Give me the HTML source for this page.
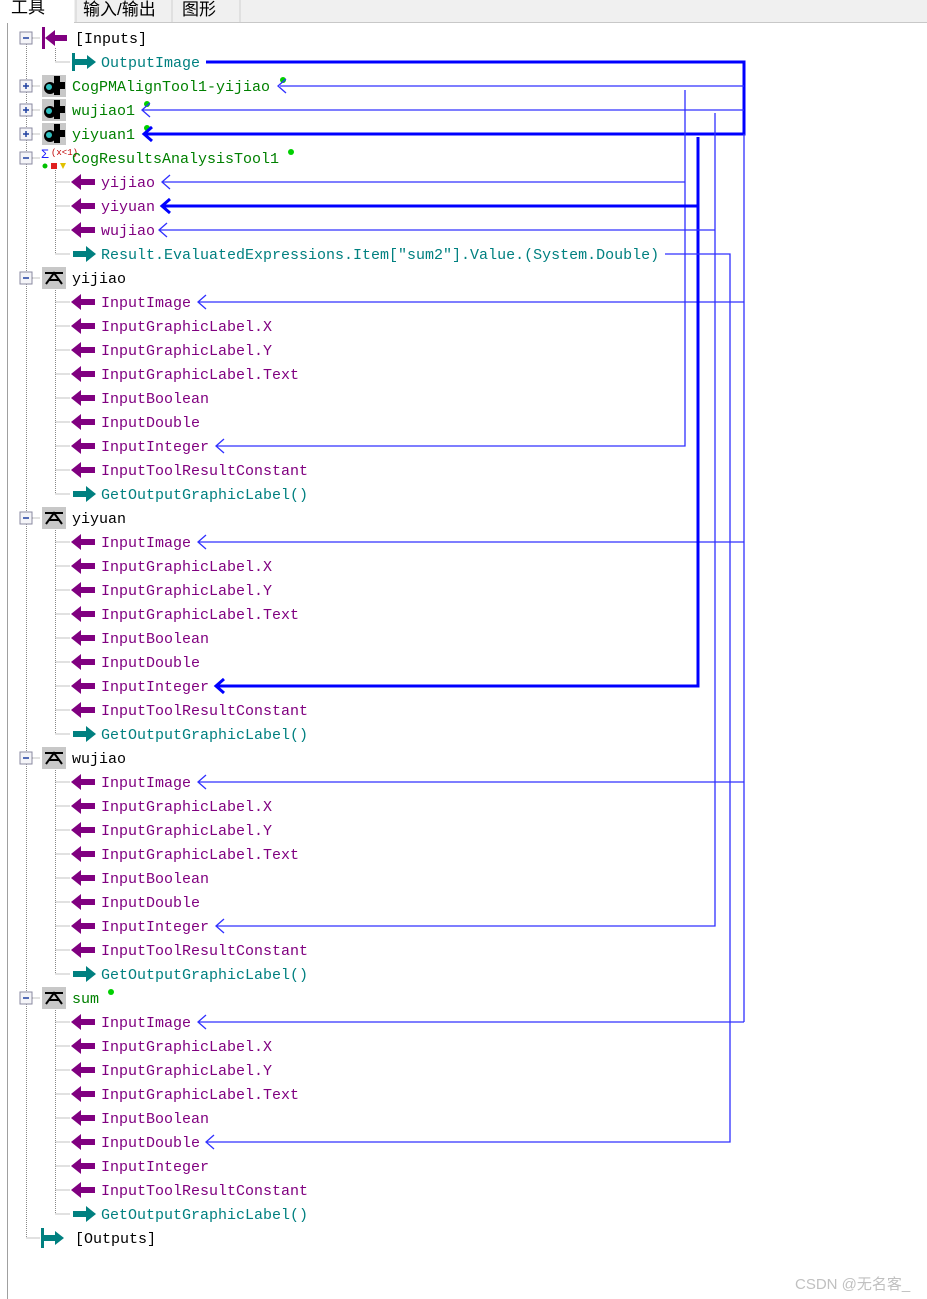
<!DOCTYPE html>
<html><head><meta charset="utf-8"><style>
html,body{margin:0;padding:0;background:#fff;width:927px;height:1299px;overflow:hidden}
svg{display:block}
text{font-family:"Liberation Mono","Noto Sans CJK SC",monospace;font-size:15px}
.t{font-family:"Liberation Sans","Noto Sans CJK SC",sans-serif;font-size:17px;fill:#000}
.p{fill:#800080}.c{fill:#008080}.g{fill:#008000}.k{fill:#000}
.d{stroke:#888;stroke-width:1;stroke-dasharray:1,1;fill:none}
.l{stroke:#3030ff;stroke-width:1.3;fill:none}
.L{stroke:#0000ff;stroke-width:3;fill:none}
</style></head><body>
<svg width="927" height="1299" viewBox="0 0 927 1299" xmlns="http://www.w3.org/2000/svg">
<defs>
<g id="pa"><polygon points="-12,0 -2,-8 -2,-3 12,-3 12,3 -2,3 -2,8" fill="#800080"/></g>
<g id="ca"><polygon points="12,0 2,-8 2,-3 -11,-3 -11,3 2,3 2,8" fill="#008080"/></g>
<g id="cab"><polygon points="12,0 3,-7 3,-3 -10,-3 -10,3 3,3 3,7" fill="#008080"/><rect x="-12" y="-9" width="3" height="18" fill="#008080"/></g>
<g id="mb"><rect x="-6" y="-6" width="12" height="12" fill="#f4f4f8" stroke="#8a8aa0"/><line x1="-3" y1="0" x2="3" y2="0" stroke="#2040a0" stroke-width="1.5"/></g>
<g id="pb"><rect x="-6" y="-6" width="12" height="12" fill="#f4f4f8" stroke="#8a8aa0"/><line x1="-3" y1="0" x2="3" y2="0" stroke="#2040a0" stroke-width="1.5"/><line x1="0" y1="-3" x2="0" y2="3" stroke="#2040a0" stroke-width="1.5"/></g>
<g id="ti"><rect x="-12" y="-11" width="24" height="22" fill="#c8c8c8"/><path d="M-8,6 L0,-5 L8,6 M-5,2 H5 M-9,-5 H9" stroke="#000" stroke-width="2" fill="none"/></g>
<g id="pm"><rect x="-12" y="-11" width="24" height="22" fill="#c8c8c8"/><circle cx="-4" cy="2" r="6" fill="#000"/><circle cx="-5" cy="1" r="3" fill="#30c0c0"/><polygon points="0,-10 6,-10 6,-4 11,-4 11,3 6,3 6,9 0,9" fill="#000"/></g>
<path id="ah" d="M8,-7 L0,0 L8,7" fill="none" stroke="#3030ff" stroke-width="1.3"/>
<path id="AH" d="M8,-7 L0,0 L8,7" fill="none" stroke="#0000ff" stroke-width="3"/>
</defs>
<rect x="0" y="0" width="927" height="23" fill="#f0f0f0"/>
<line x1="0" y1="22.5" x2="927" y2="22.5" stroke="#c8c8c8"/>
<rect x="0" y="0" width="74" height="23" fill="#fff"/>
<line x1="76" y1="0" x2="76" y2="22" stroke="#d0d0d0"/>
<line x1="172" y1="0" x2="172" y2="22" stroke="#d0d0d0"/>
<line x1="240" y1="0" x2="240" y2="22" stroke="#d0d0d0"/>
<text class="t" x="11" y="13">工具</text>
<text class="t" x="83" y="15">输入/输出</text>
<text class="t" x="182" y="15">图形</text>
<line x1="7.5" y1="23" x2="7.5" y2="1299" stroke="#a0a0a0"/>
<path class="d" d="M26.5,38 V1238 H40 M26.5,38 H40 M26.5,86 H40 M26.5,110 H40 M26.5,134 H40 M26.5,158 H40 M26.5,278 H40 M26.5,518 H40 M26.5,758 H40 M26.5,998 H40"/>
<path class="d" d="M55.5,48 V62 H70 M55.5,170 V254 M55.5,290 V494 M55.5,530 V734 M55.5,770 V974 M55.5,1010 V1214"/>
<path class="d" d="M55.5,182H70M55.5,206H70M55.5,230H70M55.5,254H70
M55.5,302H70M55.5,326H70M55.5,350H70M55.5,374H70M55.5,398H70M55.5,422H70M55.5,446H70M55.5,470H70M55.5,494H70
M55.5,542H70M55.5,566H70M55.5,590H70M55.5,614H70M55.5,638H70M55.5,662H70M55.5,686H70M55.5,710H70M55.5,734H70
M55.5,782H70M55.5,806H70M55.5,830H70M55.5,854H70M55.5,878H70M55.5,902H70M55.5,926H70M55.5,950H70M55.5,974H70
M55.5,1022H70M55.5,1046H70M55.5,1070H70M55.5,1094H70M55.5,1118H70M55.5,1142H70M55.5,1166H70M55.5,1190H70M55.5,1214H70"/>
<use href="#mb" x="26" y="38"/><use href="#pb" x="26" y="86"/><use href="#pb" x="26" y="110"/><use href="#pb" x="26" y="134"/>
<use href="#mb" x="26" y="158"/><use href="#mb" x="26" y="278"/><use href="#mb" x="26" y="518"/><use href="#mb" x="26" y="758"/><use href="#mb" x="26" y="998"/>
<rect x="42" y="27" width="3" height="22" fill="#800080"/><polygon points="45,38 55,30 55,35 67,35 67,41 55,41 55,46" fill="#800080"/>
<use href="#pm" x="54" y="86"/><use href="#pm" x="54" y="110"/><use href="#pm" x="54" y="134"/>
<text x="41" y="158" style="font-size:13px" fill="#2020ff">Σ</text><text x="51" y="155" style="font-size:9px" fill="#c00000">(x&lt;1)</text>
<circle cx="45" cy="166" r="2.5" fill="#00c000"/><rect x="51" y="163" width="6" height="6" fill="#e02020"/><polygon points="60,163 66,163 63,169" fill="#e0c000"/>
<use href="#ti" x="54" y="278"/><use href="#ti" x="54" y="518"/><use href="#ti" x="54" y="758"/><use href="#ti" x="54" y="998"/>
<g transform="translate(52,1238)"><polygon points="12,0 3,-7 3,-3 -8,-3 -8,3 3,3 3,7" fill="#008080"/><rect x="-11" y="-10" width="3" height="20" fill="#008080"/></g>
<use href="#cab" x="84" y="62"/>
<use href="#pa" x="83" y="182"/><use href="#pa" x="83" y="206"/><use href="#pa" x="83" y="230"/><use href="#ca" x="84" y="254"/>
<use href="#pa" x="83" y="302"/><use href="#pa" x="83" y="326"/><use href="#pa" x="83" y="350"/><use href="#pa" x="83" y="374"/><use href="#pa" x="83" y="398"/><use href="#pa" x="83" y="422"/><use href="#pa" x="83" y="446"/><use href="#pa" x="83" y="470"/><use href="#ca" x="84" y="494"/>
<use href="#pa" x="83" y="542"/><use href="#pa" x="83" y="566"/><use href="#pa" x="83" y="590"/><use href="#pa" x="83" y="614"/><use href="#pa" x="83" y="638"/><use href="#pa" x="83" y="662"/><use href="#pa" x="83" y="686"/><use href="#pa" x="83" y="710"/><use href="#ca" x="84" y="734"/>
<use href="#pa" x="83" y="782"/><use href="#pa" x="83" y="806"/><use href="#pa" x="83" y="830"/><use href="#pa" x="83" y="854"/><use href="#pa" x="83" y="878"/><use href="#pa" x="83" y="902"/><use href="#pa" x="83" y="926"/><use href="#pa" x="83" y="950"/><use href="#ca" x="84" y="974"/>
<use href="#pa" x="83" y="1022"/><use href="#pa" x="83" y="1046"/><use href="#pa" x="83" y="1070"/><use href="#pa" x="83" y="1094"/><use href="#pa" x="83" y="1118"/><use href="#pa" x="83" y="1142"/><use href="#pa" x="83" y="1166"/><use href="#pa" x="83" y="1190"/><use href="#ca" x="84" y="1214"/>
<text class="k" x="75" y="43">[Inputs]</text>
<text class="c" x="101" y="67">OutputImage</text>
<text class="g" x="72" y="91">CogPMAlignTool1-yijiao</text>
<text class="g" x="72" y="115">wujiao1</text>
<text class="g" x="72" y="139">yiyuan1</text>
<text class="g" x="72" y="163">CogResultsAnalysisTool1</text>
<text class="p" x="101" y="187">yijiao</text>
<text class="p" x="101" y="211">yiyuan</text>
<text class="p" x="101" y="235">wujiao</text>
<text class="c" x="101" y="259">Result.EvaluatedExpressions.Item["sum2"].Value.(System.Double)</text>
<text class="k" x="72" y="283">yijiao</text>
<text class="p" x="101" y="307">InputImage</text><text class="p" x="101" y="331">InputGraphicLabel.X</text><text class="p" x="101" y="355">InputGraphicLabel.Y</text><text class="p" x="101" y="379">InputGraphicLabel.Text</text><text class="p" x="101" y="403">InputBoolean</text><text class="p" x="101" y="427">InputDouble</text><text class="p" x="101" y="451">InputInteger</text><text class="p" x="101" y="475">InputToolResultConstant</text><text class="c" x="101" y="499">GetOutputGraphicLabel()</text>
<text class="k" x="72" y="523">yiyuan</text>
<text class="p" x="101" y="547">InputImage</text><text class="p" x="101" y="571">InputGraphicLabel.X</text><text class="p" x="101" y="595">InputGraphicLabel.Y</text><text class="p" x="101" y="619">InputGraphicLabel.Text</text><text class="p" x="101" y="643">InputBoolean</text><text class="p" x="101" y="667">InputDouble</text><text class="p" x="101" y="691">InputInteger</text><text class="p" x="101" y="715">InputToolResultConstant</text><text class="c" x="101" y="739">GetOutputGraphicLabel()</text>
<text class="k" x="72" y="763">wujiao</text>
<text class="p" x="101" y="787">InputImage</text><text class="p" x="101" y="811">InputGraphicLabel.X</text><text class="p" x="101" y="835">InputGraphicLabel.Y</text><text class="p" x="101" y="859">InputGraphicLabel.Text</text><text class="p" x="101" y="883">InputBoolean</text><text class="p" x="101" y="907">InputDouble</text><text class="p" x="101" y="931">InputInteger</text><text class="p" x="101" y="955">InputToolResultConstant</text><text class="c" x="101" y="979">GetOutputGraphicLabel()</text>
<text class="g" x="72" y="1003">sum</text>
<text class="p" x="101" y="1027">InputImage</text><text class="p" x="101" y="1051">InputGraphicLabel.X</text><text class="p" x="101" y="1075">InputGraphicLabel.Y</text><text class="p" x="101" y="1099">InputGraphicLabel.Text</text><text class="p" x="101" y="1123">InputBoolean</text><text class="p" x="101" y="1147">InputDouble</text><text class="p" x="101" y="1171">InputInteger</text><text class="p" x="101" y="1195">InputToolResultConstant</text><text class="c" x="101" y="1219">GetOutputGraphicLabel()</text>
<text class="k" x="75" y="1243">[Outputs]</text>
<circle cx="283" cy="80" r="3" fill="#00d000"/><circle cx="147" cy="104" r="3" fill="#00d000"/><circle cx="147" cy="128" r="3" fill="#00d000"/><circle cx="291" cy="152" r="3" fill="#00d000"/><circle cx="111" cy="992" r="3" fill="#00d000"/>
<path class="L" d="M206,62 H744 V134 H144"/>
<path class="l" d="M744,134 V1022"/>
<path class="l" d="M280,86 H744 M142,110 H744"/>
<path class="l" d="M198,302 H744 M198,542 H744 M198,782 H744 M198,1022 H744"/>
<path class="l" d="M685,90 V446 H216 M685,182 H162"/>
<path class="L" d="M698,137 V686 H216 M698,206 H162"/>
<path class="l" d="M715,113 V926 H216 M715,230 H159"/>
<path class="l" d="M665,254 H730 V1142 H206"/>
<use href="#ah" x="278" y="86"/><use href="#ah" x="142" y="110"/><use href="#AH" x="144" y="134"/>
<use href="#ah" x="162" y="182"/><use href="#AH" x="162" y="206"/><use href="#ah" x="159" y="230"/>
<use href="#ah" x="198" y="302"/><use href="#ah" x="216" y="446"/>
<use href="#ah" x="198" y="542"/><use href="#AH" x="216" y="686"/>
<use href="#ah" x="198" y="782"/><use href="#ah" x="216" y="926"/>
<use href="#ah" x="198" y="1022"/><use href="#ah" x="206" y="1142"/>
<text x="795" y="1289" style="font-family:'Liberation Sans','Noto Sans CJK SC',sans-serif;font-size:15px" fill="#c0c0c0">CSDN @无名客_</text>
</svg>
</body></html>
